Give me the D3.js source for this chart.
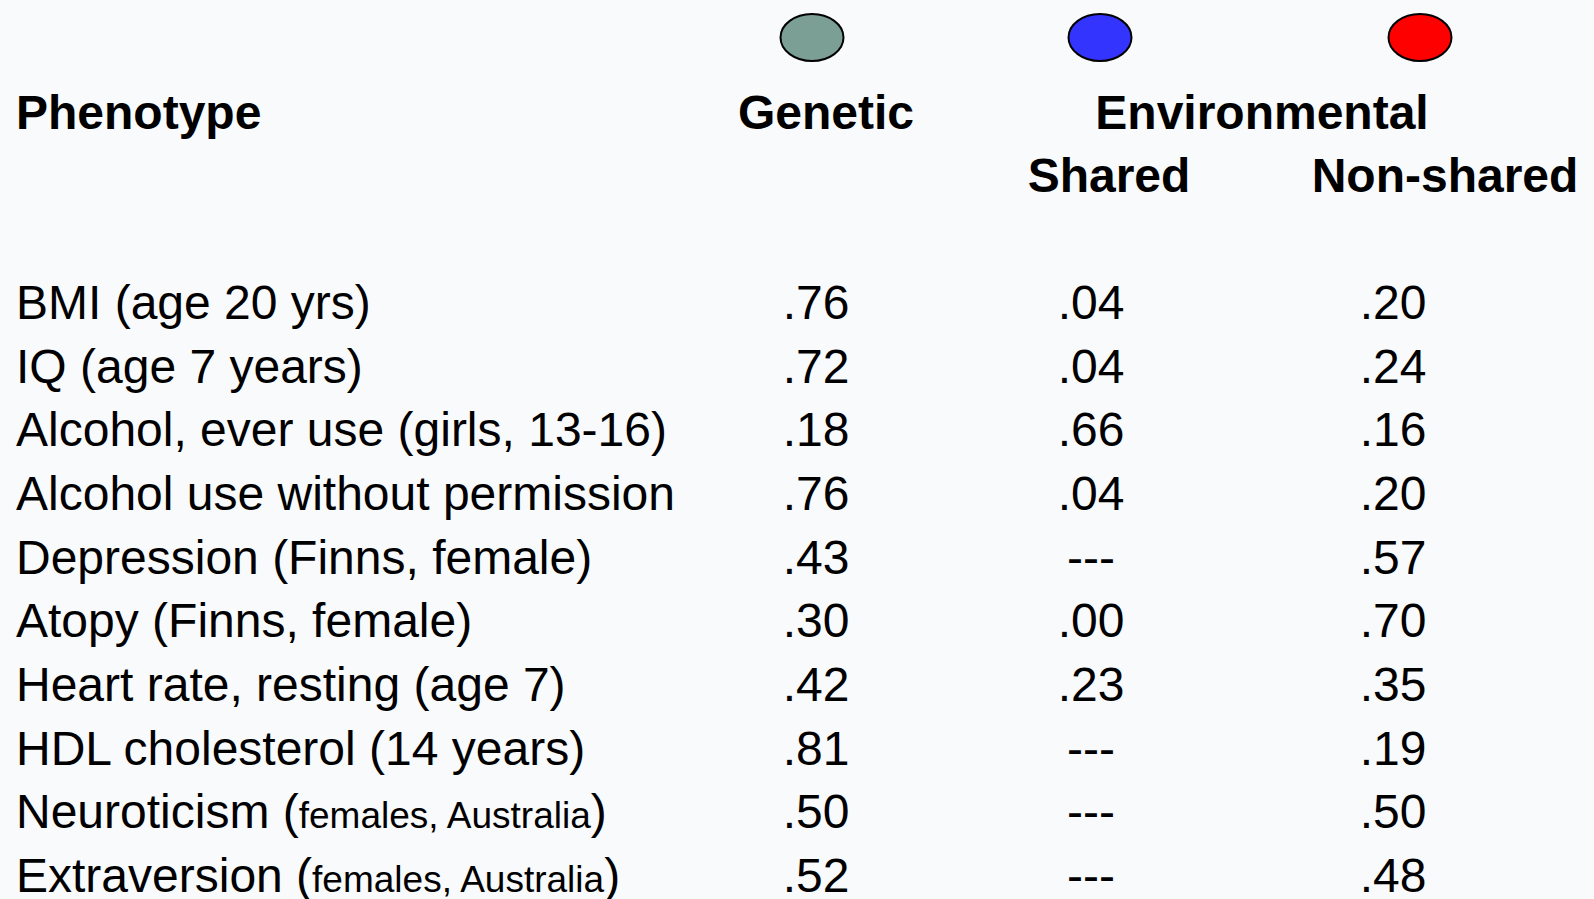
<!DOCTYPE html>
<html>
<head>
<meta charset="utf-8">
<script src="https://cdn.jsdelivr.net/npm/d3@7/dist/d3.min.js"></script>
<style>
  html, body { margin: 0; padding: 0; background: #f8fafc; }
  svg { display: block; }
  text { font-family: "Liberation Sans", Arial, sans-serif; fill: #000; }
</style>
</head>
<body>
<svg id="chart" width="1594" height="899"></svg>
<script>
// ---- Data ----
const phenotypes = [
  "BMI (age 20 yrs)",
  "IQ (age 7 years)",
  "Alcohol, ever use (girls, 13-16)",
  "Alcohol use without permission",
  "Depression (Finns, female)",
  "Atopy (Finns, female)",
  "Heart rate, resting (age 7)",
  "HDL cholesterol (14 years)",
  "Neuroticism",
  "Extraversion"
];
const phenotypeNotes = [null, null, null, null, null, null, null, null,
  "females, Australia", "females, Australia"];
const genetic   = [0.76, 0.72, 0.18, 0.76, 0.43, 0.30, 0.42, 0.81, 0.50, 0.52];
const shared    = [0.04, 0.04, 0.66, 0.04, null, 0.00, 0.23, null, null, null];
const nonShared = [0.20, 0.24, 0.16, 0.20, 0.57, 0.70, 0.35, 0.19, 0.50, 0.48];
const components = ["Genetic", "Shared", "Non-shared"];
const componentColors = ["#7c9f95", "#3434ff", "#ff0000"];

// ---- Layout ----
const svg = d3.select("#chart");
svg.append("rect").attr("width", 1594).attr("height", 899).attr("fill", "#f8fafc");

const y = d3.scalePoint().domain(d3.range(phenotypes.length)).range([319, 892]);
const colX = d3.scaleOrdinal().domain(components).range([816, 1091, 1393]);
const headX = d3.scaleOrdinal().domain(components).range([826, 1109, 1445]);
const dotX = d3.scaleOrdinal().domain(components).range([812, 1100, 1420]);
const color = d3.scaleOrdinal().domain(components).range(componentColors);

const fmt = v => v == null ? "---" : d3.format(".2f")(v).replace(/^0/, "");

// legend ellipses
svg.selectAll("ellipse.dot").data(components).join("ellipse")
  .attr("class", "dot")
  .attr("cx", d => dotX(d)).attr("cy", 37.5)
  .attr("rx", 31.5).attr("ry", 23.5)
  .attr("fill", d => color(d))
  .attr("stroke", "#000").attr("stroke-width", 2);

// headers
const bold = { "font-weight": "bold", "font-size": "48px" };
function addText(x, yy, str, anchor, attrs) {
  const t = svg.append("text").attr("x", x).attr("y", yy)
    .attr("text-anchor", anchor).text(str);
  Object.entries(attrs).forEach(([k, v]) => t.attr(k, v));
  return t;
}
addText(16, 129, "Phenotype", "start", bold);
addText(headX("Genetic"), 129, "Genetic", "middle", bold);
addText(1262, 129, "Environmental", "middle", bold);
addText(headX("Shared"), 192, "Shared", "middle", bold);
addText(headX("Non-shared"), 192, "Non-shared", "middle", bold);

// phenotype labels
const labels = svg.selectAll("text.pheno").data(phenotypes).join("text")
  .attr("class", "pheno")
  .attr("x", 16)
  .attr("y", (d, i) => y(i))
  .attr("font-size", "48px");
labels.each(function(d, i) {
  const t = d3.select(this);
  const note = phenotypeNotes[i];
  if (note) {
    t.append("tspan").text(d + " (");
    t.append("tspan").attr("font-size", "37px").text(note);
    t.append("tspan").text(")");
  } else {
    t.text(d);
  }
});

// values
const series = [genetic, shared, nonShared];
components.forEach((c, ci) => {
  svg.selectAll("text.v" + ci).data(series[ci]).join("text")
    .attr("class", "v" + ci)
    .attr("x", colX(c))
    .attr("y", (d, i) => y(i))
    .attr("text-anchor", "middle")
    .attr("font-size", "48px")
    .text(d => fmt(d));
});
</script>
</body>
</html>
